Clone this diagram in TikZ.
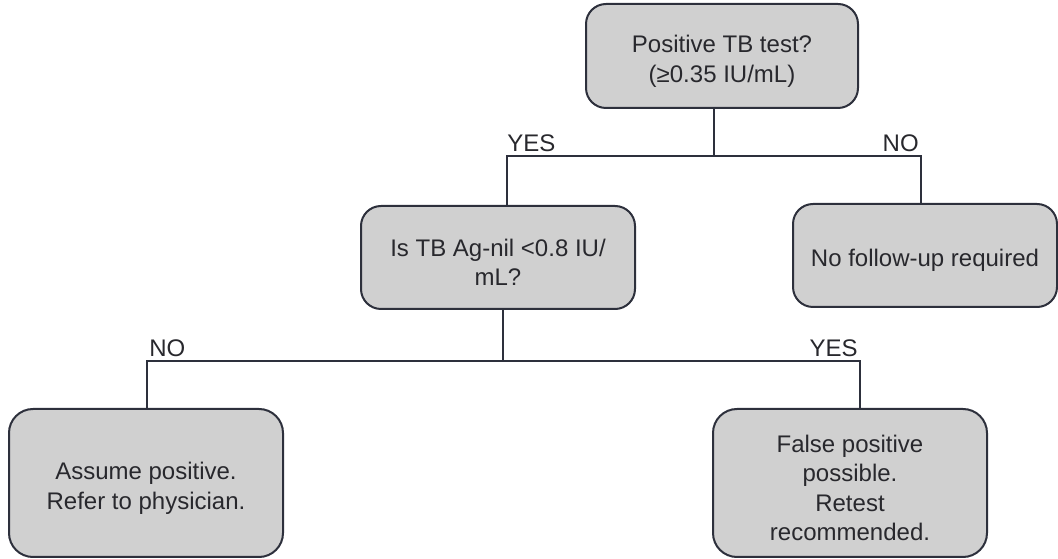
\documentclass[tikz,border=0pt]{standalone}
\usepackage{fontspec}
\setmainfont{Liberation Sans}
\definecolor{boxfill}{RGB}{208,208,208}
\definecolor{linecol}{RGB}{45,48,60}
\definecolor{txtcol}{RGB}{40,40,45}
\begin{document}
\begin{tikzpicture}[x=0.75pt,y=-0.75pt,
  box/.style={draw=linecol, fill=boxfill, line width=1.5pt, rounded corners=15pt, inner sep=0pt},
  bigbox/.style={box, rounded corners=18pt},
  boxtext/.style={align=center, text=txtcol, font=\fontsize{18}{22.2}\selectfont, inner sep=0pt, yshift=-3.75pt},
  conn/.style={draw=linecol, line width=1.5pt},
  lbl/.style={text=txtcol, font=\fontsize{18}{22}\selectfont, inner sep=0pt}]
\useasboundingbox (0,0) rectangle (1058,559);
\node[box, minimum width=204pt, minimum height=78pt] (top) at (722,56) {};
\node[boxtext] (toptext) at (top.center) {Positive TB test?\\(≥0.35 IU/mL)};
\node[box, minimum width=205.5pt, minimum height=77.25pt] (mid) at (498,257.5) {};
\node[boxtext] (midtext) at (mid.center) {Is TB Ag-nil <0.8 IU/\\mL?};
\node[box, minimum width=198pt, minimum height=77.25pt] (right) at (925,255.5) {};
\node[boxtext] (righttext) at (right.center) {No follow-up required};
\node[bigbox, minimum width=205.5pt, minimum height=111pt] (bl) at (146,483) {};
\node[boxtext] (bltext) at (bl.center) {Assume positive.\\Refer to physician.};
\node[bigbox, minimum width=205.5pt, minimum height=111pt] (br) at (850,483) {};
\node[boxtext] (brtext) at (br.center) {False positive\\possible.\\Retest\\recommended.};
\coordinate (j1) at (714,156);
\coordinate (yesT) at (507,156);
\coordinate (noT) at (921,156);
\coordinate (j2) at (503,361);
\coordinate (noB) at (147,361);
\coordinate (yesB) at (860,361);
\draw[conn] (top.south -| j1) -- (j1);
\draw[conn] (mid.north -| yesT) -- (yesT) -- (noT) -- (right.north -| noT);
\draw[conn] (mid.south -| j2) -- (j2);
\draw[conn] (bl.north -| noB) -- (noB) -- (yesB) -- (br.north -| yesB);
\node[lbl, anchor=base west] (lyes1) at (507,152) {YES};
\node[lbl, anchor=base east] (lno1) at (919,152) {NO};
\node[lbl, anchor=base west] (lno2) at (149,357) {NO};
\node[lbl, anchor=base east] (lyes2) at (858,357) {YES};
\end{tikzpicture}
\end{document}
